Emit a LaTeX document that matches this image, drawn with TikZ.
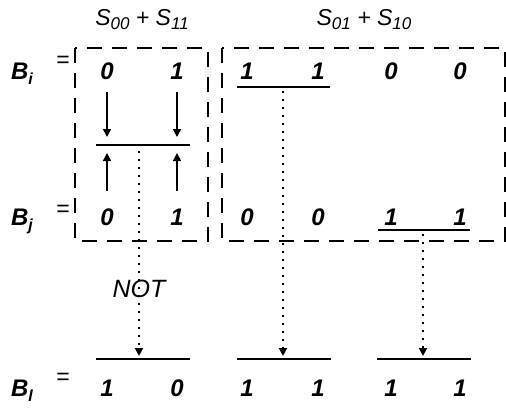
\documentclass[tikz,border=0pt]{standalone}
\usepackage{fontspec}
\setmainfont{Liberation Sans}
\usetikzlibrary{arrows.meta}

\newcommand{\lowsub}[3]{\raisebox{-#2}{\fontsize{#3}{#3}\selectfont #1}}

\begin{document}
\begin{tikzpicture}[
  x=1pt, y=-1pt,
  bit/.style={font=\fontsize{24}{24}\selectfont\bfseries\itshape, inner sep=0pt, anchor=base},
  title/.style={font=\fontsize{23}{23}\selectfont\itshape, inner sep=0pt, anchor=base},
  eqsign/.style={font=\fontsize{23}{23}\selectfont, inner sep=0pt},
  group/.style={draw, line width=1.7pt, dash pattern=on 15pt off 10pt},
  bar/.style={line width=1.8pt},
  arr/.style={-{Triangle[length=8pt,width=8pt]}, line width=1.5pt},
  dotarr/.style={-{Triangle[length=8pt,width=8pt]}, line width=2pt, dash pattern=on 2pt off 6pt, line cap=butt}
]
\useasboundingbox (0,0) rectangle (506,410);

% group titles
\node[title] (t1) at (142,25) {S\lowsub{00}{4pt}{17} + S\lowsub{11}{4pt}{17}};
\node[title] (t2) at (364,25) {S\lowsub{01}{4pt}{17} + S\lowsub{10}{4pt}{17}};

% row labels
\node[bit] (bi) at (22,79) {B\lowsub{i}{5pt}{16}};
\node[bit] (bj) at (22,225) {B\lowsub{j}{5pt}{16}};
\node[bit] (bl) at (22,396) {B\lowsub{l}{5pt}{16}};
\node[eqsign] (ei) at (63,62) {=};
\node[eqsign] (ej) at (63,211) {=};
\node[eqsign] (el) at (63,379) {=};

% bits of B_i, B_j and B_l
\foreach \x [count=\k] in {107,177,247,318,391,460} {
  \coordinate (c\k) at (\x,0);
}
\foreach \v [count=\k] in {0,1,1,1,0,0} \node[bit] (i\k) at (c\k |- 0,79) {\v};
\foreach \v [count=\k] in {0,1,0,0,1,1} \node[bit] (j\k) at (c\k |- 0,225) {\v};
\foreach \v [count=\k] in {1,0,1,1,1,1} \node[bit] (l\k) at (c\k |- 0,396) {\v};

% dashed groups
\draw[group] (75,48) rectangle (208,241);
\draw[group] (222,48) rectangle (505,241);

% S00 + S11 : both bits meet
\draw[bar] (96,145) -- (190,145);
\draw[arr] (i1.south) ++(0,13) -- (i1.south |- 0,137);
\draw[arr] (i2.south) ++(0,13) -- (i2.south |- 0,137);
\draw[arr] (j1.north) ++(0,-17) -- (j1.north |- 0,153);
\draw[arr] (j2.north) ++(0,-17) -- (j2.north |- 0,153);

% S01 + S10 underlines
\draw[bar] (237,87) -- (330,87);
\draw[bar] (378,230) -- (470,230);

% result bars
\draw[bar] (96,359) -- (190,359);
\draw[bar] (237,359) -- (331,359);
\draw[bar] (377,359) -- (471,359);

% dotted transfers
\coordinate (s1) at (139,151);
\coordinate (s2) at (283,91);
\coordinate (s3) at (423,234);
\draw[dotarr] (s1) -- (s1 |- 0,356) node[pos=0.675, title, anchor=center, font=\fontsize{25}{25}\selectfont\itshape] (not) {NOT};
\draw[dotarr] (s2) -- (s2 |- 0,356);
\draw[dotarr] (s3) -- (s3 |- 0,356);
\end{tikzpicture}
\end{document}
